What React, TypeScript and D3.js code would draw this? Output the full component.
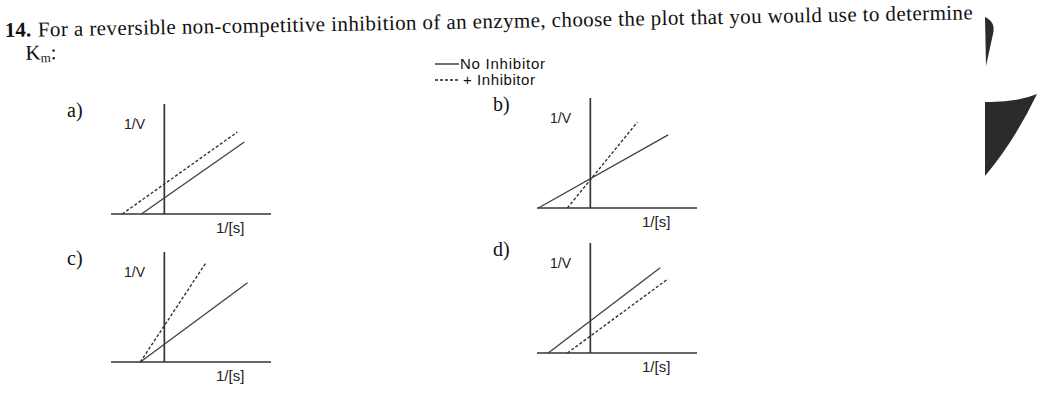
import * as d3 from 'd3'
import React from 'react'

// Lineweaver-Burk sketches: x = 1/[S], y = 1/V, in arbitrary units
const panelIds = ['a', 'b', 'c', 'd']
const noInhibitor = [
  [[-0.43, 0], [1.5, 1.31]],
  [[-0.975, 0], [1.46, 1.33]],
  [[-0.45, 0], [1.56, 1.44]],
  [[-0.79, 0], [1.31, 1.55]],
]
const withInhibitor = [
  [[-0.79, 0], [1.37, 1.49]],
  [[-0.43, 0], [0.88, 1.56]],
  [[-0.45, 0], [0.79, 1.82]],
  [[-0.43, 0], [1.46, 1.35]],
]
const xLabel = '1/[s]'
const yLabel = '1/V'
const legendLabels = ['No Inhibitor', '+ Inhibitor']
const questionText = 'For a reversible non-competitive inhibition of an enzyme, choose the plot that you would use to determine'

// where each small plot's origin sits on the page
const origins = [[164, 214], [590, 208], [164, 362], [590, 353]]

const serif = '"Liberation Serif", "Times New Roman", serif'
const sans = '"Liberation Sans", Arial, sans-serif'

const Panel = ({ id, solid, dashed, origin }: { id: string, solid: number[][], dashed: number[][], origin: number[] }) => {
  const
    x = d3.scaleLinear().domain([-1, 2]).range([-53, 107]),
    y = d3.scaleLinear().domain([0, 2]).range([0, -110]),
    line = d3.line<number[]>().x(d => x(d[0])).y(d => y(d[1]))
  return (
    <g transform={`translate(${origin[0]},${origin[1]})`}>
      <text x={-97} y={-97} fontFamily={serif} fontSize={20} fill='#111'>{id})</text>
      <line x1={x(-1)} x2={x(2)} y1={y(0)} y2={y(0)} stroke='#333' strokeWidth={1.7} />
      <line x1={x(0)} x2={x(0)} y1={y(0)} y2={y(2)} stroke='#333' strokeWidth={1.7} />
      <text x={-40} y={-85} fontFamily={sans} fontSize={14} fill='#222'>{yLabel}</text>
      <text x={52} y={19} fontFamily={sans} fontSize={15} fill='#222'>{xLabel}</text>
      <path d={line(solid)!} stroke='#444' strokeWidth={1.4} fill='none' />
      <path d={line(dashed)!} stroke='#333' strokeWidth={1.4} strokeDasharray='3 2' fill='none' />
    </g>
  )
}

export default function App() {
  return (
    <svg width={1037} height={412} style={{ position: 'absolute', left: 0, top: 0, background: '#fff' }}>
      <g transform='rotate(-1.05, 5, 37)'>
        <text x={5} y={37} fontFamily={serif} fontSize={21} fill='#111'>
          <tspan fontWeight='bold'>14.</tspan>
          <tspan x={38} textLength={935} lengthAdjust='spacing'>{questionText}</tspan>
        </text>
        <text x={25} y={60} fontFamily={serif} fontSize={21} fill='#111'>
          K<tspan fontSize={13} dy={3}>m</tspan><tspan dy={-3}>:</tspan>
        </text>
      </g>
      <line x1={435} x2={459} y1={64} y2={64} stroke='#222' strokeWidth={1.3} />
      <text x={460} y={69} fontFamily={sans} fontSize={15} fill='#111' textLength={85}>{legendLabels[0]}</text>
      <line x1={435} x2={459} y1={80} y2={80} stroke='#222' strokeWidth={1.3} strokeDasharray='3 2' />
      <text x={463} y={85} fontFamily={sans} fontSize={15} fill='#111' textLength={72}>{legendLabels[1]}</text>
      {panelIds.map((id, i) => (
        <Panel key={id} id={id} solid={noInhibitor[i]} dashed={withInhibitor[i]} origin={origins[i]} />
      ))}
      {/* scan artefacts at the right edge */}
      <path d='M985,17 Q996,22 993,34 L986,66 Z' fill='#2b2b2b' />
      <path d='M985,102 Q1015,103 1037,94 Q1015,140 985,176 Z' fill='#2b2b2b' />
    </svg>
  )
}
